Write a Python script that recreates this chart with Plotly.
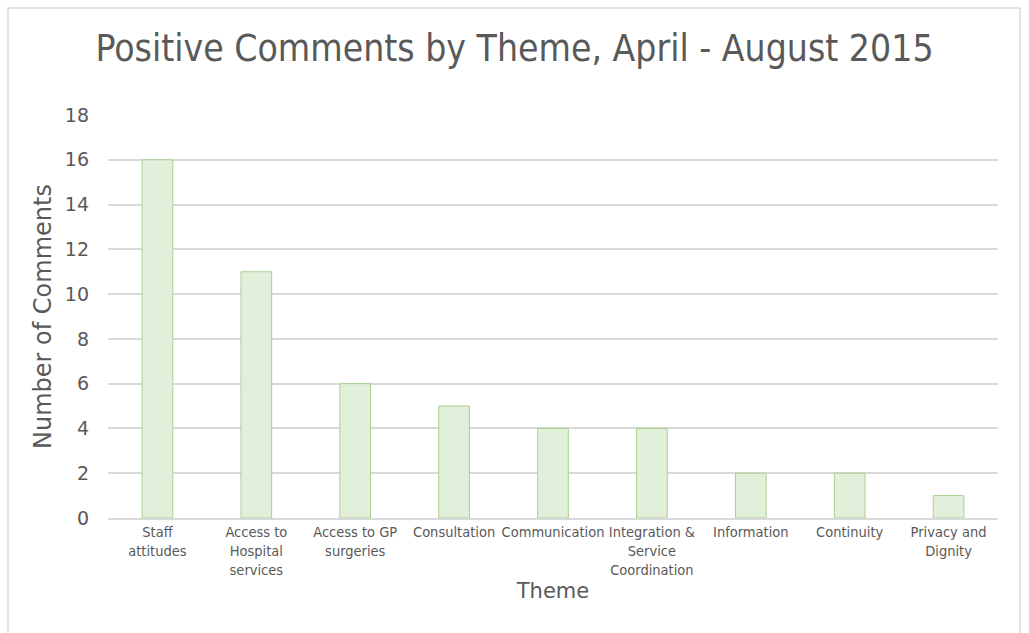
import plotly.graph_objects as go

categories = [
    "Staff<br>attitudes",
    "Access to<br>Hospital<br>services",
    "Access to GP<br>surgeries",
    "Consultation",
    "Communication",
    "Integration &<br>Service<br>Coordination",
    "Information",
    "Continuity",
    "Privacy and<br>Dignity",
]
values = [16, 11, 6, 5, 4, 4, 2, 2, 1]
y_ticks = [0, 2, 4, 6, 8, 10, 12, 14, 16, 18]

text_color = "#595959"
grid_color = "#D9D9D9"

fig = go.Figure()
fig.add_trace(go.Bar(
    x=categories,
    y=values,
    marker=dict(color="#E2EFDA", line=dict(color="#A9D18E", width=1)),
))

fig.update_layout(
    width=1029,
    height=633,
    margin=dict(l=108, r=31, t=115, b=115),
    paper_bgcolor="white",
    plot_bgcolor="white",
    bargap=0.69,
    showlegend=False,
    title=dict(
        text="Positive Comments by Theme, April - August 2015",
        x=0.5, xref="container", xanchor="center",
        y=0.924, yref="container", yanchor="middle",
        font=dict(family="DejaVu Sans Condensed", size=37, color=text_color),
    ),
    font=dict(family="DejaVu Sans", size=19, color=text_color),
    xaxis=dict(
        type="category",
        tickangle=0,
        automargin=False,
        showgrid=False,
        showline=True,
        linecolor=grid_color,
        linewidth=2,
        ticks="",
        tickfont=dict(family="DejaVu Sans Condensed", size=14.5, color=text_color),
        title=dict(text="Theme", font=dict(family="DejaVu Sans", size=21, color=text_color), standoff=6),
    ),
    yaxis=dict(
        range=[0, 18],
        tickvals=y_ticks,
        automargin=False,
        showgrid=True,
        gridcolor=grid_color,
        gridwidth=1.5,
        zeroline=False,
        showline=False,
        ticks="",
        ticklabelstandoff=18,
        tickfont=dict(family="DejaVu Sans", size=19, color=text_color),
        title=dict(text="Number of Comments", font=dict(family="DejaVu Sans", size=24, color=text_color), standoff=6),
    ),
    shapes=[dict(
        type="rect", xref="paper", yref="paper",
        x0=-0.1124, x1=1.0247, y0=-0.35, y1=1.2655,
        line=dict(color="#D9D9D9", width=1.5),
        fillcolor="rgba(0,0,0,0)",
        layer="below",
    )],
)

fig.write_html(
    "out.html",
    config={"displayModeBar": False},
    post_script="document.body.style.margin='0';document.body.style.overflow='hidden';",
)
